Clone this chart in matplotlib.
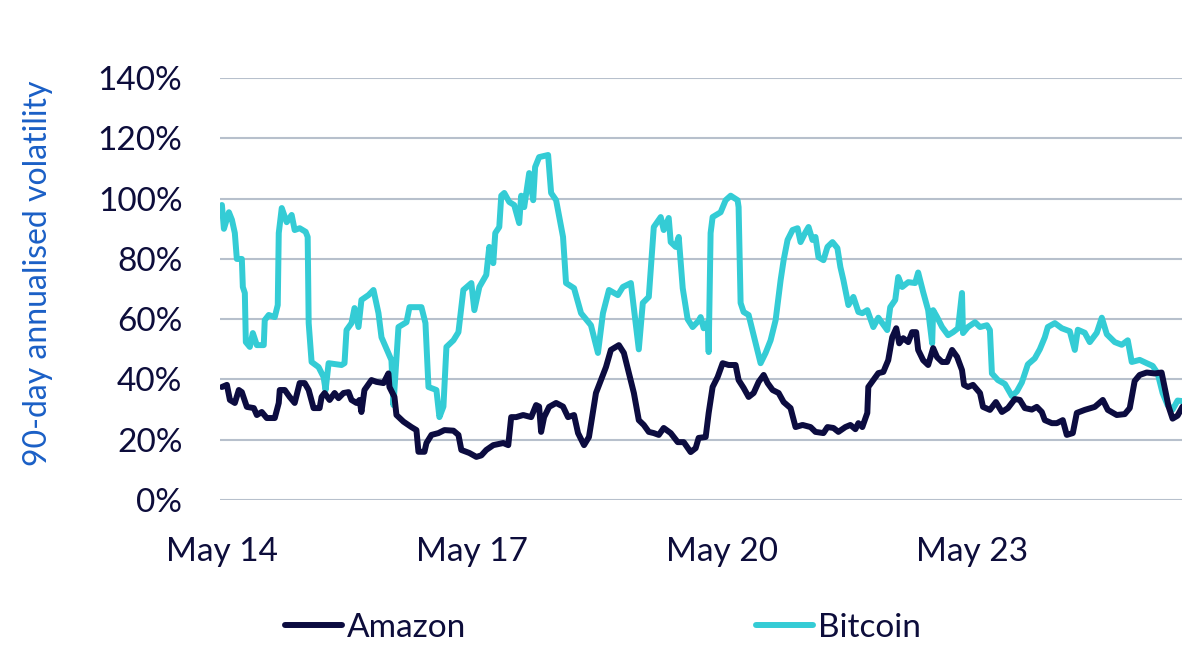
import pandas as pd
import numpy as np
import matplotlib
matplotlib.use('Agg')
import matplotlib.pyplot as plt
import matplotlib.dates as mdates

# dates as fractional years, volatility in %
btc_t = [2014.333, 2014.357, 2014.417, 2014.453, 2014.488, 2014.512, 2014.572, 2014.584, 2014.608, 2014.620,
         2014.668, 2014.704, 2014.752, 2014.835, 2014.847, 2014.895, 2014.967, 2015.003, 2015.015, 2015.051,
         2015.110, 2015.170, 2015.206, 2015.266, 2015.338, 2015.362, 2015.374, 2015.409, 2015.493, 2015.553,
         2015.577, 2015.613, 2015.768, 2015.804, 2015.828, 2015.888, 2015.924, 2015.972, 2016.007, 2016.091,
         2016.151, 2016.211, 2016.247, 2016.366, 2016.390, 2016.450, 2016.546, 2016.582, 2016.725, 2016.773,
         2016.809, 2016.904, 2016.940, 2016.988, 2017.024, 2017.108, 2017.168, 2017.227, 2017.323, 2017.359,
         2017.419, 2017.502, 2017.538, 2017.586, 2017.610, 2017.658, 2017.682, 2017.718, 2017.778, 2017.837,
         2017.897, 2017.921, 2017.957, 2018.017, 2018.065, 2018.088, 2018.136, 2018.244, 2018.280, 2018.340,
         2018.423, 2018.459, 2018.555, 2018.639, 2018.758, 2018.842, 2018.902, 2018.974, 2019.081, 2019.141,
         2019.237, 2019.332, 2019.380, 2019.452, 2019.512, 2019.595, 2019.631, 2019.691, 2019.715, 2019.775,
         2019.811, 2019.859, 2019.918, 2019.978, 2020.050, 2020.074, 2020.110, 2020.158, 2020.170, 2020.193,
         2020.217, 2020.313, 2020.373, 2020.433, 2020.516, 2020.528, 2020.552, 2020.588, 2020.648, 2020.672,
         2020.732, 2020.791, 2020.851, 2020.911, 2020.971, 2021.031, 2021.067, 2021.114, 2021.174, 2021.234,
         2021.270, 2021.330, 2021.366, 2021.413, 2021.449, 2021.485, 2021.545, 2021.593, 2021.653, 2021.712,
         2021.748, 2021.784, 2021.844, 2021.904, 2021.964, 2022.011, 2022.071, 2022.143, 2022.203, 2022.310,
         2022.346, 2022.406, 2022.442, 2022.490, 2022.562, 2022.645, 2022.681, 2022.741, 2022.801, 2022.849,
         2022.861, 2022.908, 2022.968, 2023.040, 2023.100, 2023.160, 2023.207, 2023.219, 2023.279, 2023.363,
         2023.423, 2023.506, 2023.542, 2023.566, 2023.638, 2023.722, 2023.805, 2023.865, 2023.925, 2023.997,
         2024.080, 2024.140, 2024.200, 2024.236, 2024.320, 2024.403, 2024.499, 2024.559, 2024.595, 2024.678,
         2024.738, 2024.822, 2024.882, 2024.942, 2025.037, 2025.121, 2025.193, 2025.241, 2025.336, 2025.420,
         2025.492, 2025.552, 2025.611, 2025.671, 2025.731, 2025.791, 2025.851]
btc_vol = [97.9, 90, 95.5, 93, 88.6, 80, 80, 70.7, 68.7, 52.4,
           50.8, 55.4, 51.4, 51.4, 59.7, 61.4, 60.7, 64.7, 88.6, 96.9,
           92.2, 94.6, 89.6, 90.2, 89, 87.3, 58.7, 45.8, 44.1, 40.8,
           36.5, 45.4, 44.8, 45.4, 56.4, 58.7, 63.7, 57.4, 66.4, 68,
           69.7, 62, 54, 46.4, 31.5, 57.4, 59, 64, 64, 58.7,
           37.5, 36.5, 27.5, 31, 50.8, 53, 55.7, 69.7, 72, 63,
           70.7, 74.7, 84, 78.6, 88.6, 90.6, 101, 101.9, 98.9, 97.9,
           91.9, 101, 97.2, 108.5, 99.5, 110.5, 113.8, 114.5, 101.9, 99.5,
           87.3, 72, 70.3, 62, 58, 48.8, 62, 69.7, 68, 70.7,
           72, 50, 65.4, 67.4, 90.6, 93.9, 89.6, 93.6, 85.6, 84,
           87.3, 70.3, 60, 57.4, 59.5, 60.7, 57, 59, 49.1, 88.6,
           93.9, 95.5, 99.5, 101, 99.5, 97.2, 65.4, 62.4, 61.4, 58.7,
           52, 45.4, 48.8, 53, 59.7, 73, 79.6, 86.3, 89.6, 90.2,
           85.6, 88.9, 90.6, 86.3, 87.3, 80.6, 79.6, 84, 85.6, 83.6,
           77.3, 73, 64.7, 67.4, 62.4, 62, 63, 57.4, 60.5, 56.4,
           64, 66.4, 74, 70.7, 72.3, 72, 75.5, 69, 63, 52,
           63, 60.7, 57.4, 54.7, 55.7, 57, 68.7, 55.4, 57.4, 59,
           57.4, 58, 56.4, 42, 39.8, 38.5, 34.5, 36, 39, 45,
           47, 50, 54, 57.4, 58.7, 57, 56, 49.8, 56.5, 55.5,
           52.4, 55.5, 60.5, 55, 52.4, 51.5, 53, 45.8, 46.5, 45.4,
           44.5, 42, 35.5, 31.5, 30, 33, 32.8]

amzn_t = [2014.333, 2014.393, 2014.429, 2014.488, 2014.536, 2014.572, 2014.632, 2014.716, 2014.752, 2014.811,
          2014.871, 2014.967, 2015.015, 2015.027, 2015.087, 2015.146, 2015.206, 2015.266, 2015.326, 2015.374,
          2015.433, 2015.505, 2015.529, 2015.565, 2015.625, 2015.685, 2015.732, 2015.792, 2015.852, 2015.888,
          2015.948, 2015.984, 2016.007, 2016.043, 2016.127, 2016.187, 2016.271, 2016.330, 2016.342, 2016.402,
          2016.426, 2016.510, 2016.605, 2016.665, 2016.689, 2016.761, 2016.785, 2016.845, 2016.928, 2017.000,
          2017.108, 2017.168, 2017.203, 2017.299, 2017.383, 2017.443, 2017.502, 2017.586, 2017.706, 2017.766,
          2017.801, 2017.861, 2017.945, 2018.041, 2018.100, 2018.136, 2018.160, 2018.196, 2018.256, 2018.340,
          2018.423, 2018.483, 2018.555, 2018.603, 2018.675, 2018.734, 2018.818, 2018.878, 2018.938, 2018.997,
          2019.093, 2019.153, 2019.213, 2019.273, 2019.332, 2019.392, 2019.452, 2019.512, 2019.572, 2019.631,
          2019.715, 2019.799, 2019.871, 2019.954, 2020.014, 2020.050, 2020.134, 2020.170, 2020.217, 2020.277,
          2020.337, 2020.409, 2020.492, 2020.528, 2020.588, 2020.648, 2020.708, 2020.768, 2020.828, 2020.875,
          2020.935, 2021.007, 2021.067, 2021.150, 2021.210, 2021.294, 2021.390, 2021.449, 2021.545, 2021.593,
          2021.665, 2021.724, 2021.808, 2021.868, 2021.928, 2021.964, 2022.011, 2022.071, 2022.083, 2022.143,
          2022.203, 2022.263, 2022.322, 2022.370, 2022.418, 2022.454, 2022.502, 2022.562, 2022.609, 2022.657,
          2022.681, 2022.741, 2022.801, 2022.861, 2022.908, 2022.968, 2023.028, 2023.088, 2023.148, 2023.207,
          2023.231, 2023.279, 2023.339, 2023.423, 2023.459, 2023.542, 2023.614, 2023.686, 2023.758, 2023.841,
          2023.901, 2023.961, 2024.045, 2024.104, 2024.164, 2024.200, 2024.284, 2024.344, 2024.415, 2024.463,
          2024.535, 2024.583, 2024.678, 2024.798, 2024.894, 2024.954, 2025.061, 2025.157, 2025.217, 2025.276,
          2025.336, 2025.420, 2025.516, 2025.599, 2025.635, 2025.683, 2025.731, 2025.791, 2025.851]
amzn_vol = [37.5, 38.2, 33.2, 32.2, 36.5, 35.8, 30.9, 30.5, 28.2, 29.2,
            27.2, 27.2, 32.2, 36.5, 36.5, 34.2, 32.2, 38.8, 38.8, 36.5,
            30.5, 30.5, 34.2, 35.5, 33.2, 35.5, 33.8, 35.5, 35.8, 33.2,
            32.2, 33.2, 29.2, 36.5, 39.8, 39.2, 38.8, 42, 37.5, 34.2,
            28.2, 26, 24.2, 23.2, 16, 16, 18.9, 21.6, 22.2, 23.2,
            23, 21.6, 16.6, 15.6, 14.3, 14.8, 16.6, 18.2, 18.9, 18.2,
            27.5, 27.5, 28.2, 27.5, 31.5, 31, 22.6, 27.5, 30.9, 32.2,
            31, 27.5, 28.2, 22.2, 18.2, 20.9, 35.5, 39.8, 44.1, 49.8,
            51.4, 48.8, 42.1, 35.5, 26.5, 24.9, 22.6, 22.2, 21.6, 23.9,
            22.2, 19.2, 19.2, 15.9, 17.2, 20.6, 20.9, 28.9, 37.5, 40.8,
            45.4, 44.8, 44.8, 39.8, 37.2, 34.2, 35.5, 39.2, 41.5, 38.8,
            36.5, 35.5, 32.5, 30.5, 24.2, 24.9, 24.2, 22.6, 22.2, 24.2,
            23.9, 22.6, 24.2, 24.9, 23.5, 25.5, 24.2, 28.9, 37.5, 39.8,
            42.1, 42.5, 46.4, 54, 57, 52, 53.7, 52.4, 55.7, 55.7,
            49.8, 46.4, 44.8, 50.4, 47.4, 45.8, 45.8, 49.8, 47.5, 43.1,
            38.2, 37.5, 38.2, 35.5, 30.9, 29.9, 32.5, 29.2, 30.5, 33.5,
            33.2, 30.5, 30, 30.9, 29.2, 26.5, 25.5, 25.5, 26.5, 21.6,
            22.2, 28.9, 29.9, 30.9, 33.2, 29.9, 28.2, 28.5, 30.5, 39.5,
            41.5, 42.3, 42, 42.3, 37.5, 31, 27, 28, 31]

y_ticks = [0, 20, 40, 60, 80, 100, 120, 140]
x_ticks = ['2014-05-01', '2017-05-01', '2020-05-01', '2023-05-01']


def to_date(y):
    yr = int(y)
    start = pd.Timestamp(yr, 1, 1)
    return start + (pd.Timestamp(yr + 1, 1, 1) - start) * (y - yr)


navy = '#0c0c40'
teal = '#34ccd5'
text_col = '#0d0d3b'
plt.rcParams['font.family'] = ['Lato', 'DejaVu Sans']

fig = plt.figure(figsize=(12, 6.57), dpi=100)
ax = fig.add_axes([0.1833, 0.239, 0.8017, 0.642])

ax.plot([to_date(t) for t in amzn_t], amzn_vol, color=navy, lw=4.3, label='Amazon',
        solid_capstyle='round', solid_joinstyle='round', zorder=3)
ax.plot([to_date(t) for t in btc_t], btc_vol, color=teal, lw=4.3, label='Bitcoin',
        solid_capstyle='round', solid_joinstyle='round', zorder=2)

ax.set_ylim(0, 140)
ax.set_yticks(y_ticks)
ax.set_yticklabels([f'{v}%' for v in y_ticks])
ax.set_xlim(pd.Timestamp('2014-04-24'), pd.Timestamp('2025-11-05'))
ax.set_xticks([pd.Timestamp(d) for d in x_ticks])
ax.xaxis.set_major_formatter(mdates.DateFormatter('%b %y'))

ax.grid(axis='y', color='#b7c0cc', lw=1.5)
ax.set_axisbelow(True)
for s in ax.spines.values():
    s.set_visible(False)
ax.tick_params(axis='both', length=0, labelsize=24, colors=text_col)
ax.tick_params(axis='y', pad=27)
ax.tick_params(axis='x', pad=27)

fig.text(38 / 1200, 1 - 273 / 657, '90-day annualised volatility', rotation=90,
         ha='center', va='center', fontsize=23, color='#1a5fc6')

fig.legend(loc='center', bbox_to_anchor=(0.5025, 1 - 628 / 657), ncol=2, frameon=False,
           fontsize=24, handlelength=1.7, handletextpad=0.15, columnspacing=8.7,
           labelcolor=text_col)

fig.savefig('out.png', dpi=100)
